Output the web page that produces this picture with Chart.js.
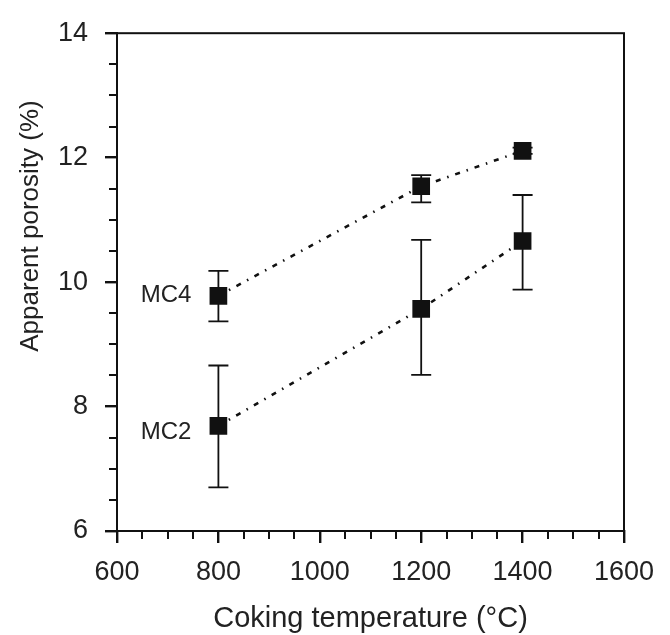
<!DOCTYPE html>
<html>
<head>
<meta charset="utf-8">
<script src="https://cdn.jsdelivr.net/npm/chart.js@4.4.0/dist/chart.umd.min.js"></script>
<style>
  html, body { margin: 0; padding: 0; background: #fff; }
  #wrap { width: 670px; height: 635px; }
</style>
</head>
<body>
<div id="wrap"><canvas id="myChart" width="670" height="635"></canvas></div>
<script>
// coking temperature (°C)
const temperatures = [800, 1200, 1400];

// apparent porosity (%) with error bar ends
const mc4Values = [9.78, 11.54, 12.11];
const mc4Low = [9.37, 11.28, 12.06];
const mc4High = [10.18, 11.72, 12.16];

const mc2Values = [7.69, 9.57, 10.66];
const mc2Low = [6.70, 8.51, 9.88];
const mc2High = [8.66, 10.68, 11.40];

const seriesNames = ['MC4', 'MC2'];
const xTickLabels = [600, 800, 1000, 1200, 1400, 1600];
const yTickLabels = [6, 8, 10, 12, 14];
const xMinorStep = 50;
const yMinorStep = 0.5;
const xTitle = 'Coking temperature (°C)';
const yTitle = 'Apparent porosity (%)';

const FONT = '"Liberation Sans", Arial, Helvetica, sans-serif';
const INK = '#111';

function makeDataset(name, values, low, high) {
  return {
    label: name,
    data: temperatures.map((t, i) => ({ x: t, y: values[i] })),
    low: low,
    high: high,
    showLine: true,
    borderColor: INK,
    borderWidth: 2.6,
    borderDash: [5, 7, 1.5, 7],
    pointStyle: 'rect',
    pointRadius: 12.5,
    pointHoverRadius: 12.5,
    pointBackgroundColor: INK,
    pointBorderColor: INK,
    pointBorderWidth: 0
  };
}

const errorBars = {
  id: 'errorBars',
  beforeDatasetsDraw(chart) {
    const ctx = chart.ctx;
    const xs = chart.scales.x;
    const ys = chart.scales.y;
    ctx.save();
    ctx.strokeStyle = INK;
    ctx.lineWidth = 1.8;
    chart.data.datasets.forEach(ds => {
      ds.data.forEach((p, i) => {
        const x = xs.getPixelForValue(p.x);
        const yl = ys.getPixelForValue(ds.low[i]);
        const yh = ys.getPixelForValue(ds.high[i]);
        ctx.beginPath();
        ctx.moveTo(x, yl); ctx.lineTo(x, yh);
        ctx.moveTo(x - 10, yl); ctx.lineTo(x + 10, yl);
        ctx.moveTo(x - 10, yh); ctx.lineTo(x + 10, yh);
        ctx.stroke();
      });
    });
    ctx.restore();
  }
};

const extras = {
  id: 'extras',
  afterDraw(chart) {
    const ctx = chart.ctx;
    const a = chart.chartArea;
    const xs = chart.scales.x;
    const ys = chart.scales.y;
    ctx.save();
    // frame
    ctx.strokeStyle = INK;
    ctx.lineWidth = 2;
    ctx.strokeRect(a.left, a.top, a.right - a.left, a.bottom - a.top);

    // minor ticks (shorter than the labelled ones)
    ctx.lineWidth = 2;
    ctx.beginPath();
    for (let v = xs.min + xMinorStep; v < xs.max; v += xMinorStep) {
      if (xTickLabels.includes(v)) continue;
      const px = Math.round(xs.getPixelForValue(v));
      ctx.moveTo(px, a.bottom); ctx.lineTo(px, a.bottom + 8);
    }
    for (let v = ys.min + yMinorStep; v < ys.max; v += yMinorStep) {
      if (yTickLabels.includes(v)) continue;
      const py = Math.round(ys.getPixelForValue(v));
      ctx.moveTo(a.left, py); ctx.lineTo(a.left - 8, py);
    }
    ctx.stroke();

    // series names next to first point
    ctx.fillStyle = '#222';
    ctx.font = '24px ' + FONT;
    ctx.textAlign = 'right';
    ctx.textBaseline = 'middle';
    const nudges = [0, 7];
    chart.data.datasets.forEach((ds, k) => {
      const p = ds.data[0];
      ctx.fillText(seriesNames[k], xs.getPixelForValue(p.x) - 27, ys.getPixelForValue(p.y) + nudges[k]);
    });

    // axis titles
    ctx.textAlign = 'center';
    ctx.font = '29px ' + FONT;
    ctx.textBaseline = 'alphabetic';
    ctx.fillText(xTitle, (a.left + a.right) / 2, 627);

    ctx.translate(31, 226);
    ctx.rotate(-Math.PI / 2);
    ctx.font = '26px ' + FONT;
    ctx.textBaseline = 'middle';
    ctx.fillText(yTitle, 0, 0);
    ctx.restore();
  }
};

const ctx = document.getElementById('myChart').getContext('2d');
const chart = new Chart(ctx, {
  type: 'scatter',
  data: {
    datasets: [
      makeDataset(seriesNames[0], mc4Values, mc4Low, mc4High),
      makeDataset(seriesNames[1], mc2Values, mc2Low, mc2High)
    ]
  },
  options: {
    responsive: false,
    animation: false,
    layout: { padding: { top: 25, right: 46, left: 0, bottom: 0 } },
    plugins: {
      legend: { display: false },
      tooltip: { enabled: false }
    },
    scales: {
      x: {
        type: 'linear',
        min: 600,
        max: 1600,
        afterFit(scale) { scale.height = 104; },
        afterBuildTicks(scale) { scale.ticks = xTickLabels.map(v => ({ value: v })); },
        ticks: {
          autoSkip: false,
          maxRotation: 0,
          padding: 13,
          color: '#222',
          font: { family: FONT, size: 27 },
          callback: v => String(v)
        },
        grid: { drawOnChartArea: false, color: INK, lineWidth: 2.4, tickLength: 12 },
        border: { color: INK, width: 2 }
      },
      y: {
        min: 6,
        max: 14,
        afterFit(scale) { scale.width = 117; },
        afterBuildTicks(scale) { scale.ticks = yTickLabels.map(v => ({ value: v })); },
        ticks: {
          autoSkip: false,
          padding: 17,
          color: '#222',
          font: { family: FONT, size: 27 },
          callback: v => String(v)
        },
        grid: { drawOnChartArea: false, color: INK, lineWidth: 2.4, tickLength: 12 },
        border: { color: INK, width: 2 }
      }
    }
  },
  plugins: [errorBars, extras]
});
</script>
</body>
</html>
